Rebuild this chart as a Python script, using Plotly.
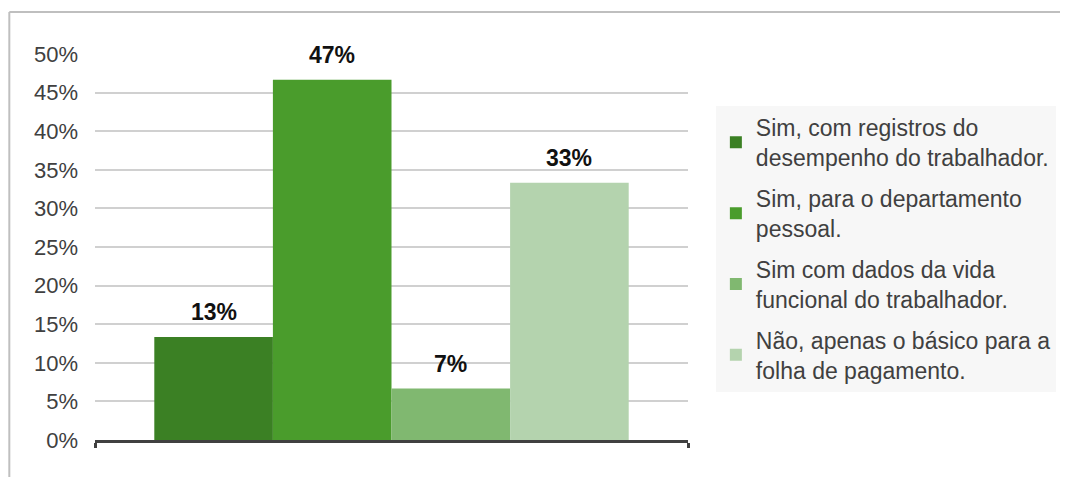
import plotly.graph_objects as go

series_names = [
    "Sim, com registros do<br>desempenho do trabalhador.",
    "Sim, para o departamento<br>pessoal.",
    "Sim com dados da vida<br>funcional do trabalhador.",
    "Não, apenas o básico para a<br>folha de pagamento.",
]
values = [0.1333, 0.4667, 0.0667, 0.3333]
labels = ["13%", "47%", "7%", "33%"]
colors = ["#3b8024", "#4a9c2c", "#80b870", "#b4d3ae"]
positions = [0, 1, 2, 3]

FONT = "Liberation Sans, Arial, sans-serif"

fig = go.Figure()
for i, (name, v, c, p) in enumerate(zip(series_names, values, colors, positions)):
    fig.add_trace(go.Bar(
        x=[p], y=[v], name=name, width=1,
        marker=dict(color=c, line=dict(width=0)),
        legendgroup=str(i),
        hoverinfo="skip",
    ))

annotations = []
for v, lab, p in zip(values, labels, positions):
    annotations.append(dict(
        x=p, y=v, xref="x", yref="y", text="<b>%s</b>" % lab,
        showarrow=False, yanchor="bottom", yshift=10,
        font=dict(family=FONT, size=23, color="#111111"),
    ))

fig.update_layout(
    width=1060, height=469,
    paper_bgcolor="white", plot_bgcolor="white",
    margin=dict(l=87, r=378, t=46, b=37),
    barmode="overlay",
    font=dict(family=FONT, size=22, color="#404040"),
    showlegend=True,
    legend=dict(
        x=1.047, y=0.495, xanchor="left", yanchor="middle",
        bgcolor="#f7f7f7", borderwidth=0,
        font=dict(family=FONT, size=23, color="#404040"),
        traceorder="grouped", tracegroupgap=8,
        itemwidth=30,
    ),
    xaxis=dict(
        range=[-1, 4], showticklabels=False, showgrid=False, zeroline=False,
        showline=True, linecolor="#404040", linewidth=3,
        tickmode="array", tickvals=[-1, 4],
        ticks="outside", ticklen=5, tickwidth=3, tickcolor="#404040",
        fixedrange=True,
    ),
    yaxis=dict(
        range=[0, 0.5], dtick=0.05, tickformat=".0%",
        showgrid=True, gridcolor="#d0d0d0", gridwidth=2,
        zeroline=False, showline=False, ticks="",
        tickfont=dict(family=FONT, size=22, color="#404040"),
        ticklabelstandoff=16,
    ),
    annotations=annotations,
    shapes=[
        dict(type="line", xref="paper", yref="paper",
             x0=-0.1445, x1=1.64, y0=1.109, y1=1.109,
             line=dict(color="#bfbfbf", width=2)),
        dict(type="line", xref="paper", yref="paper",
             x0=-0.1445, x1=-0.1445, y0=1.109, y1=-0.12,
             line=dict(color="#bfbfbf", width=2)),
    ],
)

fig.write_html("out.html")
